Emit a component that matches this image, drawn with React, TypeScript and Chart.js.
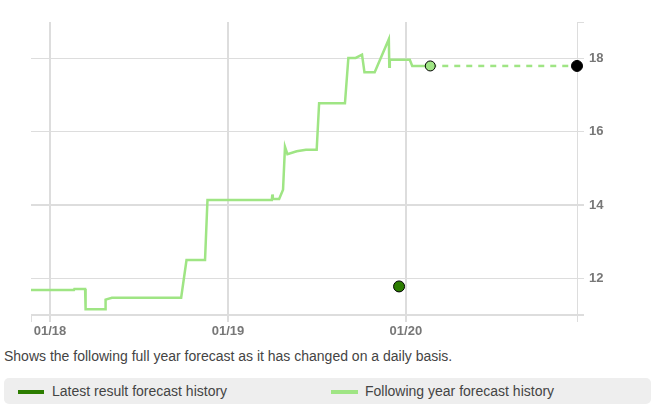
import React, { useEffect, useRef } from 'react';
import { Chart, registerables } from 'chart.js';

Chart.register(...registerables);

const FONT = '"Liberation Sans", Arial, Helvetica, sans-serif';

// x values are days counted from 1 Jan 2018
const xMinDay = -39;
const xMaxDay = 1081;
const yearTickDays = [0, 365, 730];
const yearTickLabels = ['01/18', '01/19', '01/20'];
const yMin = 11;
const yMax = 19;
const yTickValues = [12, 14, 16, 18];

const followingDays = [-39, 49, 50, 72, 73, 113, 114, 127, 269, 280, 318, 323, 455, 456, 457, 470, 478, 482, 487, 506, 525, 547, 552, 605, 612, 627, 640, 645, 666, 695, 696, 697, 738, 743, 780];
const followingValues = [11.68, 11.68, 11.71, 11.71, 11.16, 11.16, 11.42, 11.47, 11.47, 12.5, 12.5, 14.14, 14.14, 14.29, 14.17, 14.17, 14.42, 15.59, 15.39, 15.47, 15.51, 15.51, 16.78, 16.78, 18.02, 18.02, 18.11, 17.63, 17.63, 18.53, 17.78, 17.97, 17.97, 17.8, 17.8];

const projectionDays = [780, 1081];
const projectionValues = [17.8, 17.8];

const latestDays = [716];
const latestValues = [11.78];

const LIGHT = '#9fe584';
const DARK = '#2c7d00';
const GRID = '#dddddd';

const toPoints = (xs: number[], ys: number[]) => xs.map((x, i) => ({ x, y: ys[i] }));

export default function App() {
  const ref = useRef<HTMLCanvasElement | null>(null);

  useEffect(() => {
    if (!ref.current) return;
    const chart = new Chart(ref.current, {
      type: 'line',
      data: {
        datasets: [
          {
            label: 'Latest result forecast history',
            data: toPoints(latestDays, latestValues),
            showLine: false,
            pointRadius: 5.5,
            pointBackgroundColor: DARK,
            pointBorderColor: '#000',
            pointBorderWidth: 1,
            borderColor: DARK,
            backgroundColor: DARK,
            clip: false,
            order: 0,
          },
          {
            label: 'Projection',
            data: toPoints(projectionDays, projectionValues),
            borderColor: LIGHT,
            borderWidth: 2.5,
            borderDash: [6, 6],
            pointRadius: [5, 5.5],
            pointBackgroundColor: [LIGHT, '#000'],
            pointBorderColor: '#000',
            pointBorderWidth: 1,
            tension: 0,
            clip: false,
            order: 1,
          },
          {
            label: 'Following year forecast history',
            data: toPoints(followingDays, followingValues),
            borderColor: LIGHT,
            borderWidth: 2.5,
            pointRadius: 0,
            tension: 0,
            order: 2,
          },
        ],
      },
      options: {
        animation: false,
        responsive: false,
        layout: { padding: { left: 31, top: 22, right: 0, bottom: 0 } },
        plugins: { legend: { display: false }, tooltip: { enabled: false } },
        scales: {
          x: {
            type: 'linear',
            min: xMinDay,
            max: xMaxDay,
            afterBuildTicks: (s: any) => {
              s.ticks = [xMinDay, ...yearTickDays, xMaxDay].map((v) => ({ value: v }));
            },
            afterFit: (s: any) => {
              s.height = 30;
            },
            border: { display: false },
            grid: {
              color: (ctx: any) => (ctx.tick && ctx.tick.value === xMinDay ? 'transparent' : GRID),
              tickColor: GRID,
              lineWidth: (ctx: any) => (ctx.tick && (ctx.tick.value === xMaxDay || ctx.tick.value === xMinDay) ? 1 : 2),
              tickLength: 7,
            },
            ticks: {
              autoSkip: false,
              maxRotation: 0,
              padding: 2,
              color: '#777',
              font: { family: FONT, size: 13, weight: 'bold' },
              callback: (v: any) => {
                const i = yearTickDays.indexOf(Number(v));
                return i >= 0 ? yearTickLabels[i] : '';
              },
            },
          },
          y: {
            type: 'linear',
            position: 'right',
            min: yMin,
            max: yMax,
            afterBuildTicks: (s: any) => {
              s.ticks = [yMin, ...yTickValues, yMax].map((v) => ({ value: v }));
            },
            afterFit: (s: any) => {
              s.width = 85;
            },
            border: { display: false },
            grid: {
              color: (ctx: any) => (ctx.tick && ctx.tick.value === yMax ? 'transparent' : GRID),
              tickColor: GRID,
              lineWidth: (ctx: any) => (ctx.tick && (ctx.tick.value === 14 || ctx.tick.value === yMin) ? 2 : 1),
              tickLength: 7,
            },
            ticks: {
              padding: 5,
              color: '#777',
              font: { family: FONT, size: 13, weight: 'bold' },
              callback: (v: any) => (yTickValues.includes(Number(v)) ? String(v) : ''),
            },
          },
        },
      },
    } as any);
    return () => chart.destroy();
  }, []);

  return (
    <div style={{ position: 'absolute', left: 0, top: 0, width: 662, height: 408, background: '#fff', fontFamily: FONT }}>
      <canvas ref={ref} width={662} height={345} style={{ position: 'absolute', left: 0, top: 0, width: 662, height: 345 }} />
      <div style={{ position: 'absolute', left: 4, top: 348, fontSize: 14, lineHeight: '16px', color: '#444', whiteSpace: 'nowrap' }}>
        Shows the following full year forecast as it has changed on a daily basis.
      </div>
      <div style={{ position: 'absolute', left: 4, top: 378, width: 647, height: 26, background: '#eeeeee', borderRadius: 5, fontSize: 14, lineHeight: '26px', color: '#444' }}>
        <span style={{ position: 'absolute', left: 14, top: 12, width: 26, height: 4, background: DARK }} />
        <span style={{ position: 'absolute', left: 48, top: 0, whiteSpace: 'nowrap' }}>Latest result forecast history</span>
        <span style={{ position: 'absolute', left: 327, top: 12, width: 27, height: 4, background: LIGHT }} />
        <span style={{ position: 'absolute', left: 361, top: 0, whiteSpace: 'nowrap' }}>Following year forecast history</span>
      </div>
    </div>
  );
}
